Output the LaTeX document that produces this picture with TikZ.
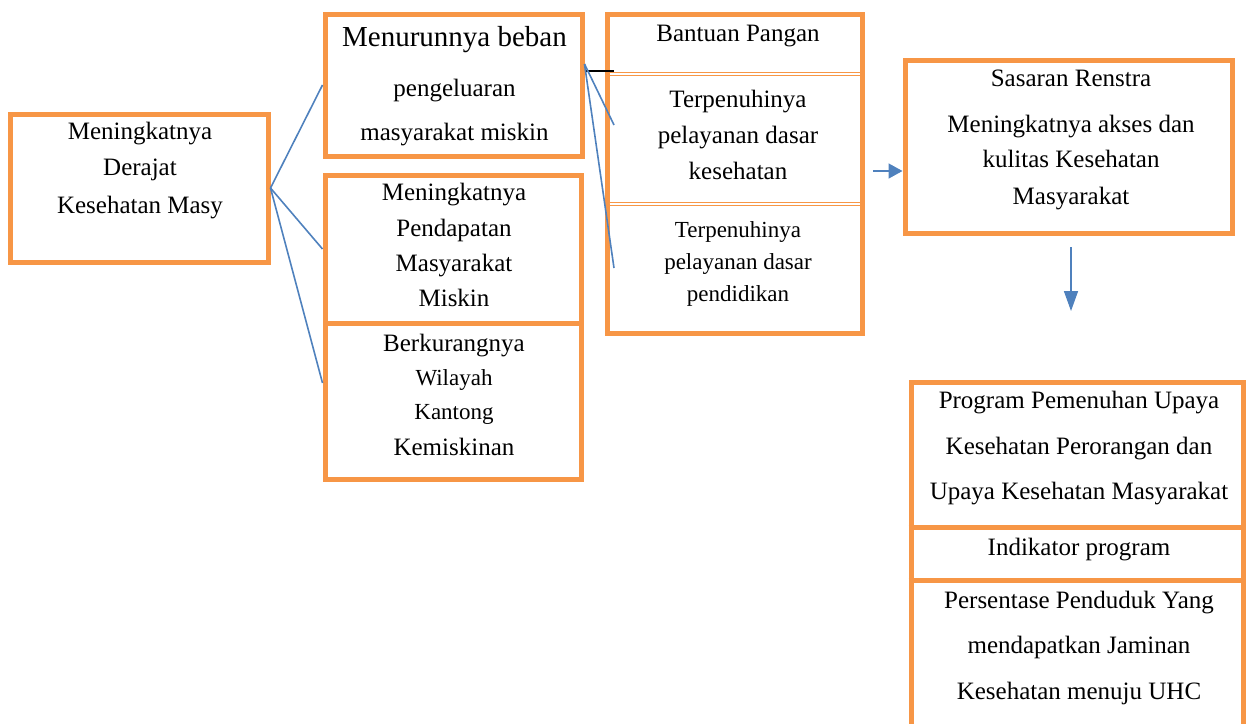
\documentclass[tikz,border=0pt]{standalone}
\usepackage{fontspec}
\setmainfont{Liberation Serif}
\usetikzlibrary{arrows.meta,calc}
\definecolor{boxorange}{HTML}{F79646}
\definecolor{linkblue}{HTML}{4F81BD}

\begin{document}
\begin{tikzpicture}[x=1pt,y=-1pt,
      box/.style={draw=boxorange, line width=5pt, inner sep=0pt, fill=white},
      rule/.style={draw=boxorange, line width=5pt},
      split/.style={draw=boxorange, double=white, double distance=2pt, line width=0.9pt},
      txt/.style={anchor=base, inner sep=0pt, font=\fontsize{25}{30}\selectfont},
      small/.style={txt, font=\fontsize{23}{28}\selectfont},
      big/.style={txt, font=\fontsize{29}{34}\selectfont},
      link/.style={linkblue, line width=1.6pt},
      arr/.style={link, -{Triangle[length=14pt,width=15pt]}},
      darr/.style={link, -{Triangle[length=20pt,width=14pt]}}]
    \useasboundingbox (0,0) rectangle (1247,723);
    % boxes
    \node[box, minimum width=258pt, minimum height=148pt] (a) at (139,188) {};
    \node[box, minimum width=257pt, minimum height=142pt] (b1) at (453.5,85) {};
    \node[box, minimum width=256pt, minimum height=148pt] (b2) at (453,249) {};
    \node[box, minimum width=256pt, minimum height=156pt] (b3) at (453,401) {};
    \node[box, minimum width=255pt, minimum height=319pt] (c) at (734.5,173.5) {};
    \node[box, minimum width=327pt, minimum height=173pt] (d) at (1068.5,146.5) {};
    \node[box, minimum width=332pt, minimum height=346pt] (e) at (1077,555) {};
    \draw[split] (609.5,74) -- (859.5,74);
    \draw[split] (609.5,204) -- (859.5,204);
    \draw[rule] (e.west |- 0,527) -- (e.east |- 0,527);
    \draw[rule] (e.west |- 0,580) -- (e.east |- 0,580);
    % texts
    \node[txt] (a1) at (140,139) {Meningkatnya};
    \node[txt] (a2) at (140,175) {Derajat};
    \node[txt] (a3) at (140,213) {Kesehatan Masy};
    \node[big] (b11) at (454.5,46) {Menurunnya beban};
    \node[txt] (b12) at (454.5,96) {pengeluaran};
    \node[txt] (b13) at (454.5,140) {masyarakat miskin};
    \node[txt] (b21) at (454,200) {Meningkatnya};
    \node[txt] (b22) at (454,236) {Pendapatan};
    \node[txt] (b23) at (454,271) {Masyarakat};
    \node[txt] (b24) at (454,306) {Miskin};
    \node[txt] (b31) at (454,351) {Berkurangnya};
    \node[small] (b32) at (454,385) {Wilayah};
    \node[small] (b33) at (454,419) {Kantong};
    \node[txt] (b34) at (454,455) {Kemiskinan};
    \node[txt] (c1) at (738,41) {Bantuan Pangan};
    \node[txt] (c2) at (738,107) {Terpenuhinya};
    \node[txt] (c3) at (738,143) {pelayanan dasar};
    \node[txt] (c4) at (738,179) {kesehatan};
    \node[small] (c5) at (738,237) {Terpenuhinya};
    \node[small] (c6) at (738,269) {pelayanan dasar};
    \node[small] (c7) at (738,301) {pendidikan};
    \node[txt] (d1) at (1071,86) {Sasaran Renstra};
    \node[txt] (d2) at (1071,132) {Meningkatnya akses dan};
    \node[txt] (d3) at (1071,167) {kulitas Kesehatan};
    \node[txt] (d4) at (1071,204) {Masyarakat};
    \node[txt] (e1) at (1079,408) {Program Pemenuhan Upaya};
    \node[txt] (e2) at (1079,454) {Kesehatan Perorangan dan};
    \node[txt] (e3) at (1079,499) {Upaya Kesehatan Masyarakat};
    \node[txt] (e4) at (1079,555) {Indikator program};
    \node[txt] (e5) at (1079,608) {Persentase Penduduk Yang};
    \node[txt] (e6) at (1079,653) {mendapatkan Jaminan};
    \node[txt] (e7) at (1079,699) {Kesehatan menuju UHC};
    % connectors
    \coordinate (k0) at (614,71);
    \coordinate (k1) at (614,125);
    \coordinate (k2) at (614,268);
    \coordinate (dIn) at (873,171);
    \coordinate (eTop) at (1071,247);
    \coordinate (eEnd) at (1071,311);
    \draw[link] (a.east) -- (b1.west);
    \draw[link] (a.east) -- (b2.west);
    \draw[link] (a.east) -- ([yshift=18pt]b3.west);
    \draw[line width=1.5pt] ([yshift=14pt]b1.east) -- (k0);
    \draw[link] ([yshift=21pt]b1.east) -- (k1);
    \draw[link] ([yshift=21pt]b1.east) -- (k2);
    \draw[arr] (dIn) -- (dIn -| d.west);
    \draw[darr] (eTop) -- (eEnd);
\end{tikzpicture}
\end{document}
